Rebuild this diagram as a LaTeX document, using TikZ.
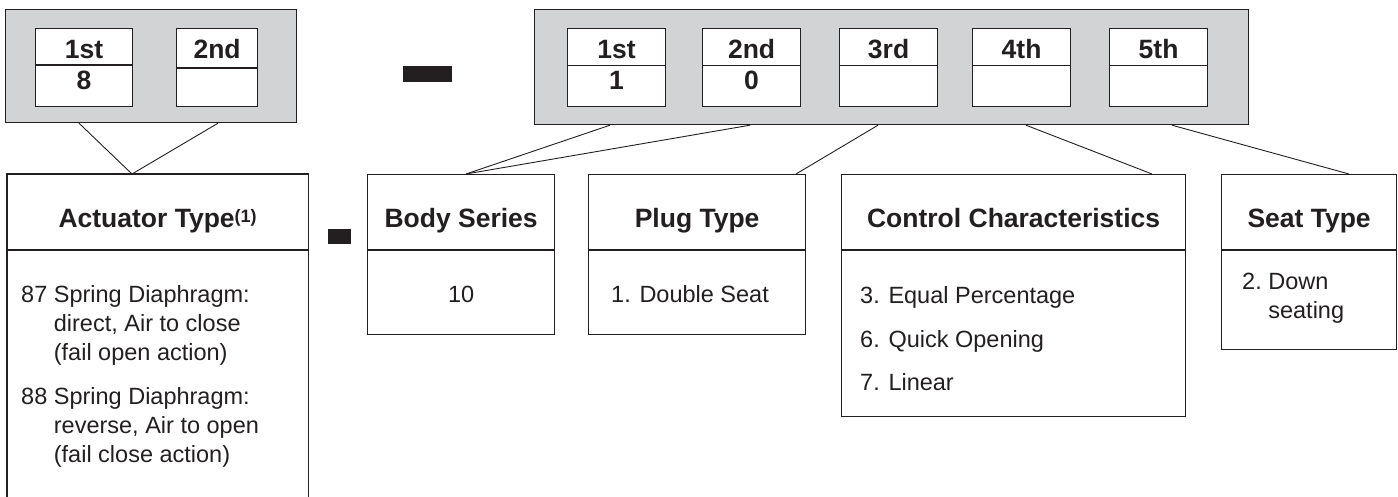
\documentclass[tikz,border=0pt]{standalone}
\usepackage{fontspec}
\setmainfont{Liberation Sans}
\definecolor{panelgray}{HTML}{D1D3D4}
\definecolor{ink}{HTML}{231F20}
\tikzset{
  panel/.style={draw=ink, fill=panelgray, line width=1.2pt, anchor=north west, inner sep=0pt},
  digitbox/.style={draw=ink, fill=white, line width=1.2pt, anchor=north west, minimum width=98pt, minimum height=78pt, inner sep=0pt},
  infobox/.style={draw=ink, fill=white, line width=1.2pt, anchor=north west, inner sep=0pt},
  rule/.style={draw=ink, line width=1.2pt},
  headtext/.style={text=ink, inner sep=0pt, anchor=base, font=\fontsize{26.5}{30}\selectfont\bfseries},
  entrytext/.style={text=ink, inner sep=0pt, anchor=base west, font=\fontsize{23.5}{29}\selectfont},
  link/.style={draw=ink, line width=0.9pt},
  minusbar/.style={fill=ink, inner sep=0pt},
}
\begin{document}
\begin{tikzpicture}[x=1pt,y=-1pt]
\useasboundingbox (0,0) rectangle (1398,497);

% code panels
\node[panel, minimum width=291pt, minimum height=113pt] (actcode) at (5,9) {};
\node[panel, minimum width=714pt, minimum height=115pt] (bodycode) at (534,9) {};
\node[minusbar, minimum width=49pt, minimum height=16pt] (minus1) at (427.5,74) {};
\node[minusbar, minimum width=23pt, minimum height=15pt] (minus2) at (339.5,236.5) {};

% actuator digits
\node[digitbox, minimum width=97pt] (a1) at (35,28) {};
\node[digitbox, minimum width=81pt] (a2) at (176,28) {};
\draw[rule] ([yshift=-37pt]a1.north west) -- ([yshift=-37pt]a1.north east);
\draw[rule] ([yshift=-40pt]a2.north west) -- ([yshift=-40pt]a2.north east);
\node[headtext] (a1-pos) at ([yshift=-31pt]a1.north) {1st};
\node[headtext] (a1-val) at ([yshift=-62pt]a1.north) {8};
\node[headtext] (a2-pos) at ([yshift=-31pt]a2.north) {2nd};

% body digits
\foreach \n/\x/\pos/\val in {1/567/1st/1, 2/702/2nd/0, 3/839/3rd/{}, 4/972/4th/{}, 5/1109/5th/{}} {
  \node[digitbox] (b\n) at (\x,28) {};
  \draw[rule] ([yshift=-37.5pt]b\n.north west) -- ([yshift=-37.5pt]b\n.north east);
  \node[headtext] (b\n-pos) at ([yshift=-31pt]b\n.north) {\pos};
  \node[headtext] (b\n-val) at ([yshift=-62pt]b\n.north) {\val};
}

% description boxes
\node[infobox, draw=none, fill=none, minimum width=300pt, minimum height=325pt] (actuator) at (7,174) {};
\draw[rule] (actuator.south west) -- (actuator.north west) -- (actuator.north east) -- (actuator.south east);
\node[infobox, minimum width=187pt, minimum height=160pt] (series) at (367,174) {};
\node[infobox, minimum width=217pt, minimum height=160pt] (plug) at (588,174) {};
\node[infobox, minimum width=344pt, minimum height=242pt] (control) at (841,174) {};
\node[infobox, minimum width=175pt, minimum height=175pt] (seat) at (1221,174) {};
\foreach \b in {actuator,series,plug,control,seat}
  \draw[rule] ([yshift=-76pt]\b.north west) -- ([yshift=-76pt]\b.north east);

% headings
\node[headtext] (actuator-head) at ([yshift=-54pt]actuator.north) {Actuator Type\raisebox{5pt}{\fontsize{18}{18}\selectfont(1)}};
\node[headtext] (series-head) at ([yshift=-54pt]series.north) {Body Series};
\node[headtext] (plug-head) at ([yshift=-54pt]plug.north) {Plug Type};
\node[headtext] (control-head) at ([yshift=-54pt]control.north) {Control Characteristics};
\node[headtext] (seat-head) at ([yshift=-54pt]seat.north) {Seat Type};

% entries
\node[entrytext] (actuator-list) at (21,302) {\begin{tabular}[t]{@{}l@{\ }l@{}}
  87 & Spring Diaphragm:\\
     & direct, Air to close\\
     & (fail open action)\\[15pt]
  88 & Spring Diaphragm:\\
     & reverse, Air to open\\
     & (fail close action)
\end{tabular}};
\node[entrytext, anchor=base] (series-list) at ([yshift=-128pt]series.north) {10};
\node[entrytext] (plug-list) at (611,302) {1. Double Seat};
\node[entrytext] (control-list) at (860,303) {\begin{tabular}[t]{@{}l@{}}
  3. Equal Percentage\\[15pt]
  6. Quick Opening\\[15pt]
  7. Linear
\end{tabular}};
\node[entrytext] (seat-list) at (1242,289) {\begin{tabular}[t]{@{}l@{\ }l@{}}
  2. & Down\\
     & seating
\end{tabular}};

% connectors
\draw[link] ([xshift=74pt]actcode.south west) -- ([xshift=125pt]actuator.north west);
\draw[link] ([xshift=213pt]actcode.south west) -- ([xshift=125pt]actuator.north west);
\draw[link] ([xshift=76pt]bodycode.south west) -- ([xshift=99pt]series.north west);
\draw[link] ([xshift=216pt]bodycode.south west) -- ([xshift=99pt]series.north west);
\draw[link] ([xshift=344pt]bodycode.south west) -- ([xshift=208pt]plug.north west);
\draw[link] ([xshift=492pt]bodycode.south west) -- ([xshift=311pt]control.north west);
\draw[link] ([xshift=638pt]bodycode.south west) -- ([xshift=128pt]seat.north west);
\end{tikzpicture}
\end{document}
